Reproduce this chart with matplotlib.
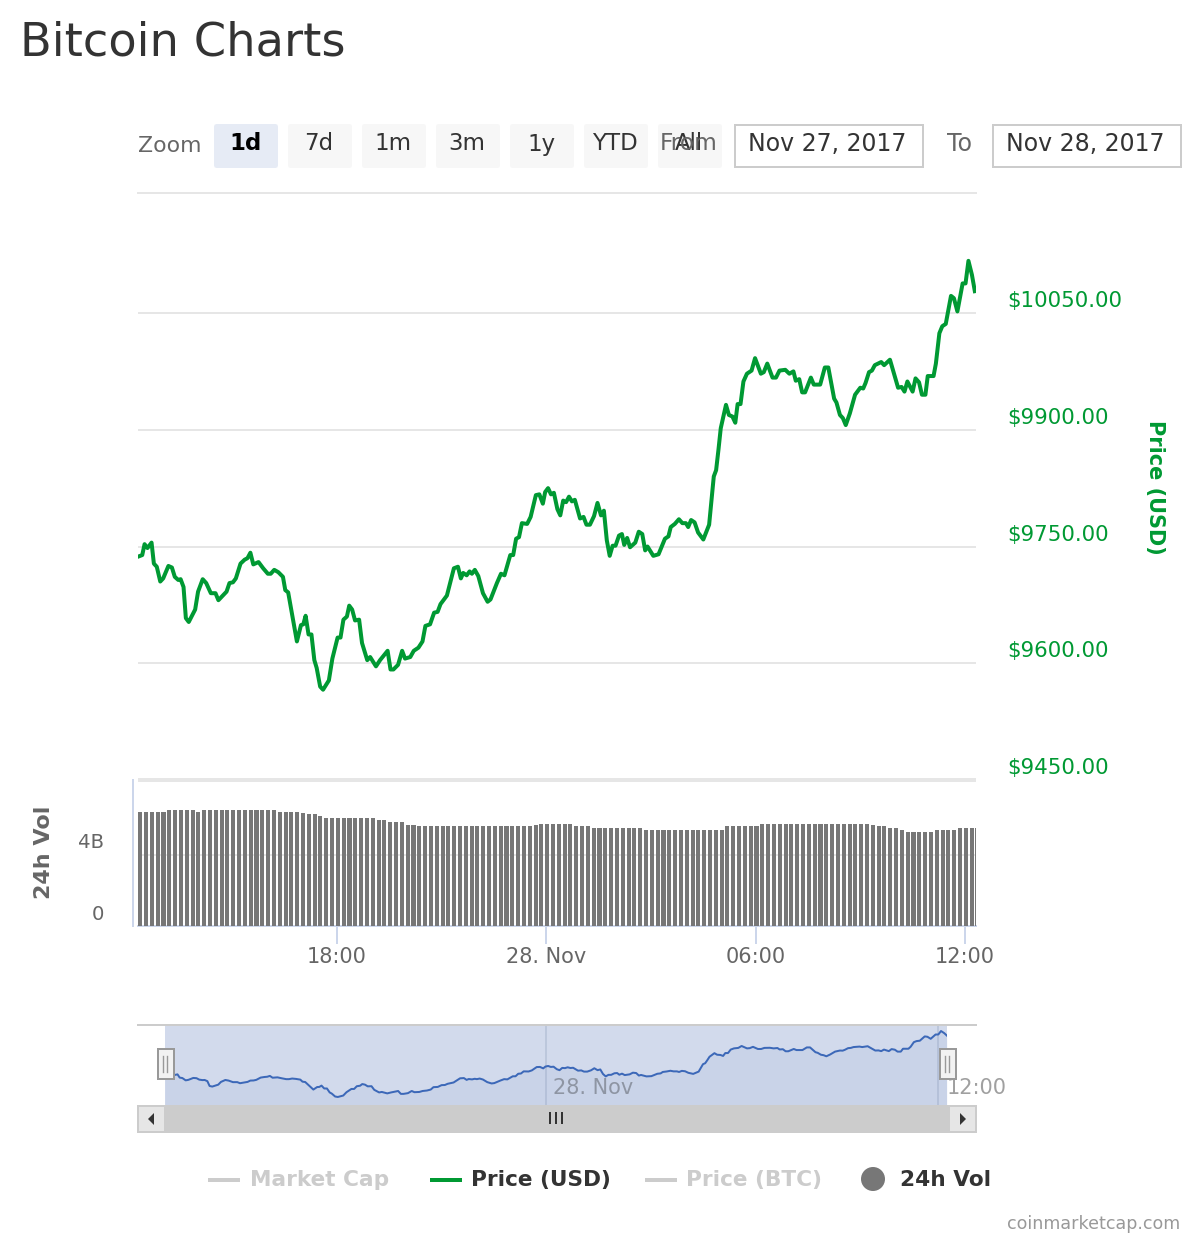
import matplotlib
matplotlib.use("Agg")
import matplotlib.pyplot as plt
from matplotlib.patches import FancyBboxPatch, Rectangle, Circle, Polygon
from matplotlib.transforms import ScaledTranslation

plt.rcParams['font.family'] = ['DejaVu Sans']

# ---- data ----
price_minutes = [18,25,29,34,41,45,50,56,61,70,76,81,87,91,96,100,105,116,121,129,135,143,151,156,170,175,181,186,194,201,
 206,211,216,225,233,241,246,252,259,267,271,276,291,298,302,306,311,316,321,325,331,336,346,352,361,366,371,377,381,386,
 391,398,403,412,417,427,434,447,452,457,465,472,477,486,492,500,507,512,520,527,533,538,549,561,568,573,577,583,588,592,
 597,603,611,619,624,635,642,648,658,663,668,673,678,687,693,702,708,714,718,723,728,733,739,744,749,754,759,764,769,778,
 784,789,795,802,808,814,819,824,829,834,839,845,850,854,859,864,873,879,885,890,894,904,913,924,930,934,941,948,954,960,
 964,969,975,981,990,1000,1008,1012,1016,1020,1029,1034,1040,1045,1049,1054,1059,1065,1073,1079,1089,1094,1100,1109,1115,
 1121,1131,1138,1145,1149,1155,1160,1165,1175,1180,1191,1199,1205,1215,1219,1225,1230,1235,1242,1251,1260,1265,1269,1275,
 1280,1285,1296,1301,1311,1325,1331,1336,1341,1350,1355,1361,1366,1372,1376,1386,1390,1396,1401,1407,1416,1421,1427,1436,
 1441,1446,1452,1457]
price_usd = [9737,9739,9753,9748,9755,9728,9724,9705,9709,9725,9723,9711,9707,9708,9698,9658,9653,9669,9692,9708,9703,9690,9690,9681,9692,9703,9704,9709,9728,9733,
 9735,9742,9727,9730,9722,9715,9715,9720,9717,9711,9694,9691,9628,9649,9650,9661,9637,9637,9604,9594,9570,9566,9578,9606,9633,9633,9656,9660,9674,9669,
 9655,9656,9626,9604,9608,9596,9604,9616,9592,9592,9598,9616,9606,9608,9616,9620,9628,9648,9650,9665,9666,9676,9687,9722,9724,9709,9716,9713,9718,9715,
 9720,9712,9690,9679,9682,9703,9715,9713,9739,9739,9760,9762,9780,9779,9788,9816,9817,9805,9820,9825,9817,9819,9798,9790,9809,9807,9814,9808,9810,9786,
 9788,9778,9778,9789,9806,9790,9796,9758,9738,9751,9751,9764,9766,9752,9761,9749,9755,9769,9766,9745,9750,9738,9740,9760,9763,9775,9779,9785,9780,9780,
 9775,9784,9781,9768,9759,9778,9840,9848,9874,9902,9932,9919,9917,9909,9933,9933,9962,9972,9976,9992,9972,9974,9985,9967,9967,
 9976,9977,9972,9975,9963,9965,9948,9948,9967,9958,9958,9980,9980,9940,9935,9919,9915,9906,9921,9945,9954,9953,9960,9974,
 9976,9983,9987,9983,9990,9954,9955,9949,9962,9949,9966,9961,9945,9945,9969,9969,9985,10024,10033,10036,10072,10069,10052,10088,
 10088,10117,10099,10078]
volume_b = [6.42,6.42,6.42,6.42,6.42,6.53,6.53,6.53,6.53,6.53,6.42,6.53,6.53,6.53,6.53,6.53,6.53,6.53,6.53,6.53,6.53,6.53,6.53,6.53,
 6.42,6.42,6.42,6.42,6.37,6.31,6.31,6.20,6.08,6.08,6.08,6.08,6.08,6.08,6.08,6.08,6.08,5.97,5.97,5.86,5.86,5.86,5.69,5.69,
 5.63,5.63,5.63,5.63,5.63,5.63,5.63,5.63,5.63,5.63,5.63,5.63,5.63,5.63,5.63,5.63,5.63,5.63,5.63,5.63,5.69,
 5.75,5.75,5.75,5.75,5.75,5.75,5.63,5.63,5.63,5.52,5.52,5.52,5.52,5.52,5.52,5.52,5.52,5.52,
 5.41,5.41,5.41,5.41,5.41,5.41,5.41,5.41,5.41,5.41,5.41,5.41,5.41,5.41,5.63,5.63,5.63,5.63,5.63,5.63,
 5.75,5.75,5.75,5.75,5.75,5.75,5.75,5.75,5.75,5.75,5.75,5.75,5.75,5.75,5.75,5.75,5.75,5.75,5.75,
 5.69,5.63,5.63,5.52,5.52,5.41,5.30,5.30,5.30,5.30,5.30,5.41,5.41,5.41,5.41,5.52,5.52,5.52,5.52]
volume_minutes = [18 + 10*i for i in range(len(volume_b))]
price_ticks = [9450, 9600, 9750, 9900, 10050]
price_labels = ['$9450.00', '$9600.00', '$9750.00', '$9900.00', '$10050.00']
time_ticks = [360, 720, 1080, 1440]
time_labels = ['18:00', '28. Nov', '06:00', '12:00']
zoom_buttons = ['1d', '7d', '1m', '3m', '1y', 'YTD', 'All']

# ---- colours ----
GREEN = '#009933'
GRID = '#e6e6e6'
AXIS = '#ccd6eb'
GRAY = '#666666'
BAR = '#777777'
LIGHT = '#cccccc'
DARK = '#333333'

W, H = 1200, 1240
fig = plt.figure(figsize=(W/100, H/100), dpi=100, facecolor='white')
PX = 0.72  # points per pixel

def axpx(x0, y0, x1, y1, **kw):
    return fig.add_axes([x0/W, 1-y1/H, (x1-x0)/W, (y1-y0)/H], **kw)

# chrome layer in pixel space
bg = axpx(0, 0, W, H)
bg.set_xlim(0, W); bg.set_ylim(H, 0); bg.axis('off')

def T(x, y, s, size=15, color=DARK, weight='normal', ha='left', va='center', rot=0, ax=bg, z=5):
    return ax.text(x, y, s, fontsize=size, color=color, fontweight=weight, ha=ha, va=va,
                   rotation=rot, zorder=z)

T(20, 43, 'Bitcoin Charts', size=33.4, color=DARK)

# zoom row
T(138, 146, 'Zoom', size=15.8, color=GRAY)
for i, lab in enumerate(zoom_buttons):
    x0 = 214 + 74*i
    sel = i == 0
    bg.add_patch(FancyBboxPatch((x0+3, 127), 58, 38, boxstyle='round,pad=0,rounding_size=0.1',
                                fc='#e6ebf5' if sel else '#f7f7f7', ec='#e6ebf5' if sel else '#f7f7f7',
                                lw=6*PX, zorder=2))
    T(x0+31, 144, lab, size=16.5, color='black' if sel else DARK,
      weight='bold' if sel else 'normal', ha='center')
T(660, 144, 'From', size=16.8, color=GRAY)
T(947, 144, 'To', size=17, color=GRAY)
for x0, lab in [(734, 'Nov 27, 2017'), (992, 'Nov 28, 2017')]:
    bg.add_patch(Rectangle((x0+1, 125), 188, 42, fc='white', ec=LIGHT, lw=2*PX, zorder=2))
    T(x0+14, 144, lab, size=17, color=DARK)

# price axes
ax = axpx(138, 193, 976, 780)
ax.patch.set_alpha(0)
ax.set_xlim(17.7, 1459)
ax.set_ylim(9450, 9450 + (780-193)*150/116.75)
ax.plot(price_minutes, price_usd, color=GREEN, lw=4.0*PX, solid_joinstyle='round', zorder=3)
ax.set_yticks(price_ticks, price_labels)
ax.grid(axis='y', color=GRID, lw=2*PX)
ax.set_axisbelow(True)
ax.set_xticks([])
ax.yaxis.tick_right()
ax.tick_params(axis='y', length=0, pad=31*PX, labelsize=15.4, labelcolor=GREEN)
off = ScaledTranslation(0, 14/100, fig.dpi_scale_trans)
for lbl in ax.get_yticklabels():
    lbl.set_transform(lbl.get_transform() + off)
for s in ['left', 'right', 'bottom']:
    ax.spines[s].set_visible(False)
ax.spines['top'].set_color(GRID)
ax.spines['top'].set_linewidth(2*PX)
T(1155, 487, 'Price (USD)', size=15, color=GREEN, weight='bold', ha='center', rot=270)

# band between panes
bg.add_patch(Rectangle((138, 778), 838, 4, fc=GRID, ec='none', zorder=1))

# volume axes
vx = axpx(138, 782, 976, 926)
vx.patch.set_alpha(0)
vx.set_xlim(17.7, 1459)
vx.set_ylim(0, (926-782)*4/71)
vx.bar(volume_minutes, volume_b, width=7.0, align='edge', color=BAR, lw=0, zorder=3)
vx.set_yticks([0, 4], ['0', '4B'])
vx.grid(axis='y', color=GRID, lw=2*PX)
vx.set_axisbelow(True)
vx.tick_params(axis='y', length=0, pad=34*PX, labelsize=14.2, labelcolor=GRAY)
off2 = ScaledTranslation(0, 14/100, fig.dpi_scale_trans)
for lbl in vx.get_yticklabels():
    lbl.set_transform(lbl.get_transform() + off2)
vx.set_xticks(time_ticks, time_labels)
vx.tick_params(axis='x', length=18*PX, width=2*PX, color=AXIS, labelcolor=GRAY, labelsize=15, pad=2)
for s in ['left', 'right', 'top']:
    vx.spines[s].set_visible(False)
vx.spines['bottom'].set_color(AXIS)
vx.spines['bottom'].set_linewidth(2*PX)
bg.plot([133, 133], [780, 926], color=AXIS, lw=2*PX, zorder=1)
T(44, 852, '24h Vol', size=16, color=GRAY, weight='bold', ha='center', rot=90)

# navigator
bg.plot([138, 976], [1025, 1025], color=LIGHT, lw=2*PX, zorder=1)
nx = axpx(165, 1026, 947, 1105)
nx.set_facecolor('#d2daec')
nx.set_xlim(18, 1457)
nx.set_ylim(9499, 10159)
nx.fill_between(price_minutes, price_usd, 9499, color='#335cad', alpha=0.05, lw=0, zorder=2)
nx.plot(price_minutes, price_usd, color='#3c68b8', lw=2*PX, zorder=4)
nx.set_xticks([720, 1440], [])
nx.grid(axis='x', color='#bcc7dc', lw=2*PX)
nx.set_axisbelow(True)
nx.set_yticks([])
nx.tick_params(length=0)
for s in nx.spines.values():
    s.set_visible(False)
nx.set_zorder(2)

top = axpx(0, 0, W, H)
top.set_xlim(0, W); top.set_ylim(H, 0); top.axis('off'); top.patch.set_alpha(0)
top.set_zorder(5)
T(553, 1088, '28. Nov', size=15, color='#8e95a3', ax=top)
T(947, 1088, '12:00', size=15, color='#a0a0a0', ax=top)

# scrollbar
top.add_patch(Rectangle((137, 1105), 839, 28, fc=LIGHT, ec='none'))
for x0 in (137, 948):
    top.add_patch(Rectangle((x0+1, 1106), 27, 26, fc=GRID, ec=LIGHT, lw=2*PX))
top.add_patch(Polygon([[154, 1113], [154, 1125], [148, 1119]], fc=DARK, ec='none'))
top.add_patch(Polygon([[960, 1113], [960, 1125], [966, 1119]], fc=DARK, ec='none'))
for x in (550, 556, 562):
    top.plot([x, x], [1113, 1123], color=DARK, lw=2*PX)
# handles
for x0 in (157, 939):
    top.add_patch(Rectangle((x0+0.5, 1049), 16, 30, fc='#f2f2f2', ec='#999999', lw=2*PX, zorder=6))
    for dx in (6, 10):
        top.plot([x0+dx, x0+dx], [1056, 1072], color='#999999', lw=1.4*PX, zorder=7)

# legend
for x0, col in [(208, LIGHT), (430, GREEN), (645, LIGHT)]:
    top.plot([x0, x0+32], [1180, 1180], color=col, lw=4*PX, solid_capstyle='butt')
T(250, 1180, 'Market Cap', size=15.6, color=LIGHT, weight='bold', ax=top)
T(471, 1180, 'Price (USD)', size=15.6, color=DARK, weight='bold', ax=top)
T(686, 1180, 'Price (BTC)', size=15.6, color=LIGHT, weight='bold', ax=top)
top.add_patch(Circle((873, 1179), 12, fc=BAR, ec='none'))
T(900, 1180, '24h Vol', size=15.6, color=DARK, weight='bold', ax=top)
T(1180, 1224, 'coinmarketcap.com', size=12.6, color='#999999', ha='right', ax=top)

fig.savefig('out.png', dpi=100)
